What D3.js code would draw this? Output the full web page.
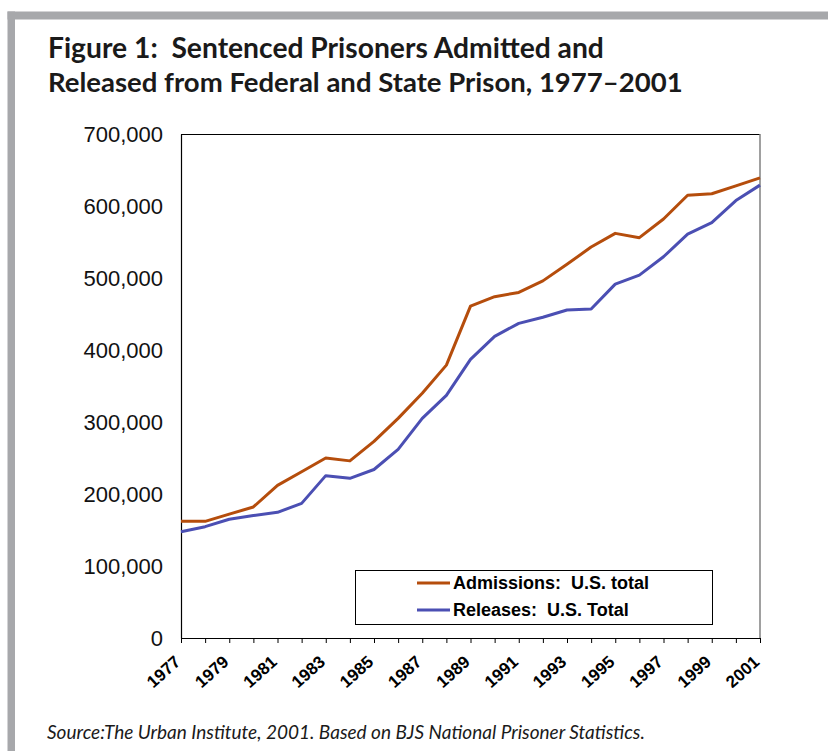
<!DOCTYPE html>
<html>
<head>
<meta charset="utf-8">
<script src="https://cdn.jsdelivr.net/npm/d3@7"></script>
<style>
  body { margin: 0; background: #fff; }
  text { white-space: pre; }
</style>
</head>
<body>
<div id="chart"></div>
<script>
// data
const years = d3.range(1977, 2002);
const admissions = [162000, 162000, 172000, 182000, 212000, 231000, 250000, 246000, 273000, 305000,
  340000, 379000, 461000, 474000, 480000, 496000, 519000, 543000, 562000, 556000,
  582000, 615000, 617000, 628000, 639000];
const releases = [147600, 154600, 165000, 170000, 174500, 187000, 225500, 221800, 234000, 262000,
  305000, 337000, 387000, 419000, 437000, 445500, 455500, 457000, 491500, 504000,
  529500, 561000, 577000, 607500, 629000];
const yTicks = [0, 100000, 200000, 300000, 400000, 500000, 600000, 700000];
const yearLabels = years.filter((d) => d % 2 === 1);
const seriesNames = ["Admissions:  U.S. total", "Releases:  U.S. Total"];
const seriesColors = ["#b54d0c", "#4b4fb3"];

const W = 828, H = 751;
const margin = { top: 134, right: 68, bottom: 113, left: 181 };
const width = W - margin.left - margin.right;
const height = H - margin.top - margin.bottom;

const svg = d3.select("#chart").append("svg")
  .attr("width", W).attr("height", H);

// grey frame of the figure box
svg.append("rect").attr("x", 7.5).attr("y", 11.5).attr("width", W).attr("height", 8).attr("fill", "#a7a8ab");
svg.append("rect").attr("x", 7.5).attr("y", 11.5).attr("width", 7.5).attr("height", H).attr("fill", "#a7a8ab");

// title, fitted to the width in the picture
function fitText(sel, target) {
  const w = sel.node().getComputedTextLength();
  const fs = parseFloat(sel.attr("font-size"));
  sel.attr("font-size", fs * target / w);
}
const titleFont = "Lato, 'Open Sans', sans-serif";
const t1 = svg.append("text").attr("x", 48).attr("y", 58)
  .attr("font-family", titleFont).attr("font-weight", "bold").attr("font-size", 24)
  .attr("fill", "#1a1a1a")
  .text("Figure 1:  Sentenced Prisoners Admitted and");
fitText(t1, 556);
const t2 = svg.append("text").attr("x", 48).attr("y", 92)
  .attr("font-family", titleFont).attr("font-weight", "bold").attr("font-size", 24)
  .attr("fill", "#1a1a1a")
  .text("Released from Federal and State Prison, 1977\u20132001");
fitText(t2, 635);

const src = svg.append("text").attr("x", 47).attr("y", 739)
  .attr("font-family", titleFont).attr("font-style", "italic").attr("font-size", 18)
  .attr("fill", "#1a1a1a")
  .text("Source:The Urban Institute, 2001. Based on BJS National Prisoner Statistics.");
fitText(src, 598);

const g = svg.append("g").attr("transform", `translate(${margin.left},${margin.top})`);

const x = d3.scaleLinear().domain([1977, 2001]).range([0, width]);
const y = d3.scaleLinear().domain([0, 700000]).range([height, 0]);

// plot frame: top black, right grey
g.append("line").attr("x1", 0).attr("x2", width).attr("y1", 0.5).attr("y2", 0.5)
  .attr("stroke", "#000").attr("stroke-width", 1.2);
g.append("line").attr("x1", width).attr("x2", width).attr("y1", 0).attr("y2", height)
  .attr("stroke", "#808080").attr("stroke-width", 1.5);

// Y axis
const yAxis = g.append("g")
  .call(d3.axisLeft(y).tickValues(yTicks).tickSize(0).tickPadding(18).tickFormat(d3.format(",")));
yAxis.select(".domain").attr("stroke", "#000").attr("stroke-width", 1.2);
yAxis.selectAll("text")
  .attr("font-family", "'Liberation Sans', Arial, sans-serif")
  .attr("font-size", 22).attr("fill", "#111");

// X axis
const xAxis = g.append("g").attr("transform", `translate(0,${height})`)
  .call(d3.axisBottom(x).tickValues(years).tickSize(5).tickSizeOuter(0)
    .tickFormat((d) => (yearLabels.includes(d) ? String(d) : "")));
xAxis.select(".domain").attr("stroke", "#000").attr("stroke-width", 1.2);
xAxis.selectAll(".tick line").attr("stroke", "#000");
xAxis.selectAll("text")
  .attr("font-family", "'Liberation Sans', Arial, sans-serif")
  .attr("font-weight", "bold").attr("font-size", 17).attr("fill", "#000")
  .attr("text-anchor", "end")
  .attr("transform", "translate(-4,21) rotate(-42)")
  .attr("dy", "0.35em").attr("y", 0);

// lines
const line = d3.line().x((d, i) => x(years[i])).y((d) => y(d));
[admissions, releases].forEach((s, k) => {
  g.append("path").datum(s)
    .attr("fill", "none")
    .attr("stroke", seriesColors[k])
    .attr("stroke-width", 3)
    .attr("stroke-linejoin", "round")
    .attr("d", line);
});

// legend
const legend = svg.append("g");
legend.append("rect").attr("x", 355.5).attr("y", 570.5).attr("width", 357).attr("height", 54)
  .attr("fill", "#fff").attr("stroke", "#000").attr("stroke-width", 1);
seriesNames.forEach((name, k) => {
  const yy = 583 + k * 27;
  legend.append("line").attr("x1", 417).attr("x2", 450).attr("y1", yy).attr("y2", yy)
    .attr("stroke", seriesColors[k]).attr("stroke-width", 3);
  legend.append("text").attr("x", 453).attr("y", yy).attr("dy", "0.36em")
    .attr("font-family", "'Liberation Sans', Arial, sans-serif")
    .attr("font-weight", "bold").attr("font-size", 18).attr("fill", "#000")
    .text(name);
});
</script>
</body>
</html>
